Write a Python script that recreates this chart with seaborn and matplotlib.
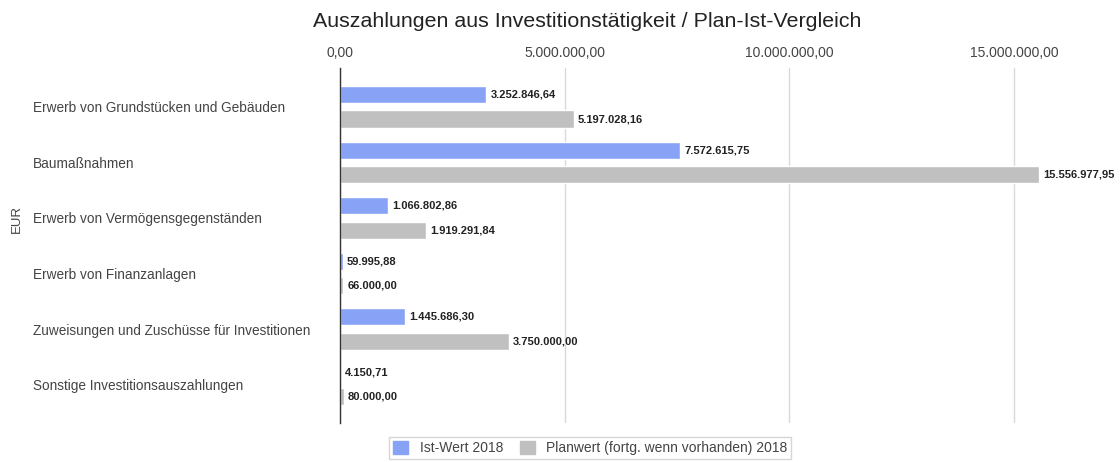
import matplotlib
matplotlib.use("Agg")
from matplotlib import pyplot as plt
from matplotlib.ticker import FuncFormatter
import pandas as pd
import seaborn as sns

categories = [
    "Erwerb von Grundstücken und Gebäuden",
    "Baumaßnahmen",
    "Erwerb von Vermögensgegenständen",
    "Erwerb von Finanzanlagen",
    "Zuweisungen und Zuschüsse für Investitionen",
    "Sonstige Investitionsauszahlungen",
]
ist_wert = [3252846.64, 7572615.75, 1066802.86, 59995.88, 1445686.30, 4150.71]
plan_wert = [5197028.16, 15556977.95, 1919291.84, 66000.00, 3750000.00, 80000.00]
series_names = ["Ist-Wert 2018", "Planwert (fortg. wenn vorhanden) 2018"]
x_ticks = [0, 5000000, 10000000, 15000000]


def de_format(v):
    # german number format 1.234.567,89
    return f"{v:,.2f}".replace(",", "X").replace(".", ",").replace("X", ".")


df = pd.DataFrame({"Kategorie": categories, series_names[0]: ist_wert, series_names[1]: plan_wert})
long_df = df.melt(id_vars="Kategorie", var_name="Reihe", value_name="EUR")

sns.set_style("white")
plt.rcParams["font.family"] = ["Liberation Sans", "DejaVu Sans"]

fig = plt.figure(figsize=(11.2, 4.62), dpi=100)
ax = fig.add_axes([0.3036, 0.0844, 0.982 - 0.3036, 0.853 - 0.0844])

sns.barplot(data=long_df, y="Kategorie", x="EUR", hue="Reihe", hue_order=series_names,
            palette=["#88a3f6", "#c0c0c0"], width=0.88, gap=0.3, orient="h",
            saturation=1, ax=ax, legend=False)

for cont in ax.containers:
    ax.bar_label(cont, labels=[de_format(b.get_width()) for b in cont], padding=3,
                 fontsize=8, fontweight="bold", color="#222222")

ax.set_xlim(0, 16.91e6)
ax.set_ylim(5.69, -0.70)
ax.set_xticks(x_ticks)
ax.xaxis.set_major_formatter(FuncFormatter(lambda v, p: de_format(v)))
ax.xaxis.tick_top()
ax.tick_params(axis="x", length=0, pad=6, labelsize=10, labelcolor="#444444")
ax.grid(axis="x", color="#d9d9d9", linewidth=1)
ax.set_axisbelow(True)
for s in ["top", "right", "bottom"]:
    ax.spines[s].set_visible(False)
ax.spines["left"].set_color("#333333")
ax.spines["left"].set_linewidth(1)

ax.tick_params(axis="y", length=0, pad=221, labelsize=9.8, labelcolor="#444444")
for lbl in ax.get_yticklabels():
    lbl.set_ha("left")
ax.set_ylabel("")
ax.set_xlabel("")
fig.text(0.015, 0.525, "EUR", rotation=90, ha="center", va="center", fontsize=9.5, color="#444444")

fig.suptitle("Auszahlungen aus Investitionstätigkeit / Plan-Ist-Vergleich", x=0.524, y=0.975,
             va="top", fontsize=15.4, color="#222222")

handles = [plt.Rectangle((0, 0), 1, 1, color=c) for c in ["#88a3f6", "#c0c0c0"]]
leg = fig.legend(handles, series_names, loc="upper center", bbox_to_anchor=(0.527, 0.07),
                 ncol=2, fontsize=10, frameon=True, fancybox=False, edgecolor="#cccccc",
                 handlelength=1.1, handleheight=1.1, columnspacing=1.2, borderpad=0.3)
for t in leg.get_texts():
    t.set_color("#444444")

plt.savefig("out.png", dpi=100)
